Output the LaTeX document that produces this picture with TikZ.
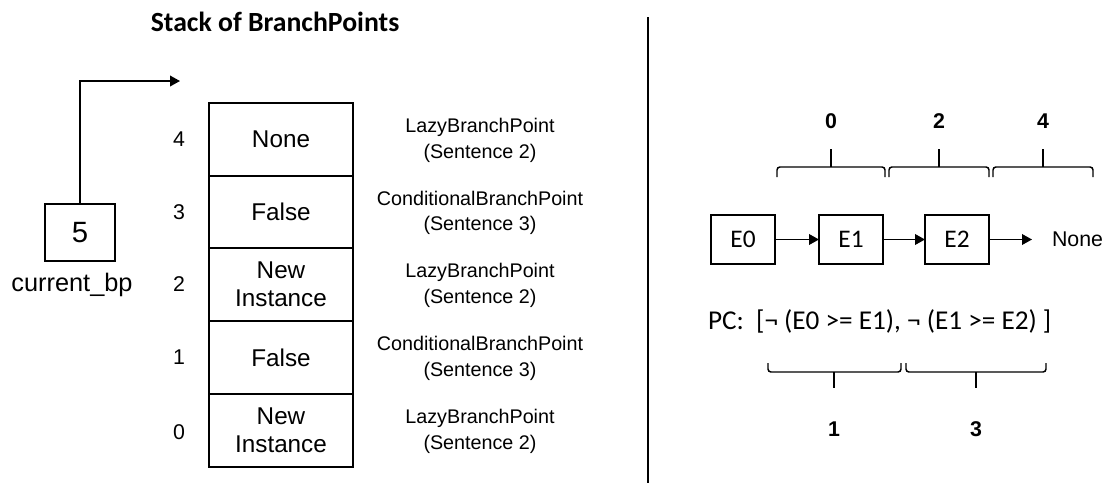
\documentclass[tikz,border=0pt]{standalone}
\usepackage{fontspec}
\setmainfont{Liberation Sans}
\newfontfamily\calfont{Carlito}
\usetikzlibrary{arrows.meta}

\begin{document}
\begin{tikzpicture}[x=0.75pt, y=-0.75pt,
  every node/.style={inner sep=0pt, outer sep=0pt},
  cell/.style={draw, line width=1.2pt, minimum width=108pt, minimum height=54.6pt,
               align=center, font=\fontsize{18.2pt}{21pt}\selectfont},
  idx/.style={font=\fontsize{16pt}{18pt}\selectfont},
  kind/.style={align=center, font=\fontsize{14.8pt}{19pt}\selectfont},
  elem/.style={draw, line width=1.1pt, minimum width=48pt, minimum height=37pt,
               font=\calfont\fontsize{19pt}{21pt}\selectfont},
  brnum/.style={font=\bfseries\fontsize{16pt}{18pt}\selectfont},
  bracket/.style={line width=1.1pt, rounded corners=2.2pt},
  arr/.style={line width=1.1pt, -{Triangle[length=7.5pt,width=8pt]}}]

\useasboundingbox (0,0) rectangle (1107,483);

% ---- left: the stack ----
\node[font=\calfont\bfseries\fontsize{20.8pt}{22pt}\selectfont] (title) at (275,22) {Stack of BranchPoints};

\node[cell] (s4) at (281,139.5) {None};
\node[cell] (s3) at (281,212)   {False};
\node[cell] (s2) at (281,284.5) {New\\Instance};
\node[cell] (s1) at (281,357.5) {False};
\node[cell] (s0) at (281,430.5) {New\\Instance};

\node[idx] (i4) at (179,139.5) {4};
\node[idx] (i3) at (179,212)   {3};
\node[idx] (i2) at (179,284.5) {2};
\node[idx] (i1) at (179,357.5) {1};
\node[idx] (i0) at (179,432)   {0};

\node[kind] (k4) at (480,140.5) {LazyBranchPoint\\(Sentence 2)};
\node[kind] (k3) at (480,213)   {ConditionalBranchPoint\\(Sentence 3)};
\node[kind] (k2) at (480,285.5) {LazyBranchPoint\\(Sentence 2)};
\node[kind] (k1) at (480,358.5) {ConditionalBranchPoint\\(Sentence 3)};
\node[kind] (k0) at (480,431.5) {LazyBranchPoint\\(Sentence 2)};

% stack pointer
\node[draw, line width=1.1pt, minimum width=52.5pt, minimum height=42.75pt,
      font=\fontsize{22pt}{24pt}\selectfont] (bp) at (80,232.5) {5};
\node[font=\fontsize{19pt}{21pt}\selectfont, anchor=center] (bpname) at (72,285) {current\_bp};
\coordinate (top) at (180,81);
\draw[arr] (bp.north) -- (bp.north |- top) -- (top);

% divider
\node (divtop) at (648,17) {};
\node (divbot) at (648,483) {};
\draw[line width=2.2pt] (divtop.center) -- (divbot.center);

% ---- right: expression chain ----
\node[elem] (e0) at (743,239.5) {E0};
\node[elem] (e1) at (851,239.5) {E1};
\node[elem] (e2) at (957,239.5) {E2};
\node[anchor=west, font=\fontsize{16pt}{18pt}\selectfont] (none) at (1052,239.5) {None};
\draw[arr] (e0) -- (e1);
\draw[arr] (e1) -- (e2);
\draw[arr, shorten >=15pt] (e2) -- (none);

% brackets above the chain
\draw[bracket] (777,177) -- (777,167) -- (885,167) -- (885,177);
\draw[bracket] (889,177) -- (889,167) -- (989,167) -- (989,177);
\draw[bracket] (993,177) -- (993,167) -- (1093,167) -- (1093,177);
\draw[line width=1.1pt] (831,167) -- (831,149);
\draw[line width=1.1pt] (939,167) -- (939,149);
\draw[line width=1.1pt] (1043,167) -- (1043,149);
\node[brnum] (t0) at (831,121) {0};
\node[brnum] (t2) at (939,121) {2};
\node[brnum] (t4) at (1043,121) {4};

% path condition
\node[anchor=west, font=\calfont\fontsize{20.4pt}{22pt}\selectfont] (pc) at (708,321)
  {PC:\ \ [¬ (E0 >= E1), ¬ (E1 >= E2) ]};

% brackets below the path condition
\draw[bracket] (768,363) -- (768,372) -- (901,372) -- (901,363);
\draw[bracket] (906,363) -- (906,372) -- (1046,372) -- (1046,363);
\draw[line width=1.1pt] (834,372) -- (834,388);
\draw[line width=1.1pt] (976,372) -- (976,388);
\node[brnum] (b1) at (834,429) {1};
\node[brnum] (b3) at (976,429) {3};

\end{tikzpicture}
\end{document}
